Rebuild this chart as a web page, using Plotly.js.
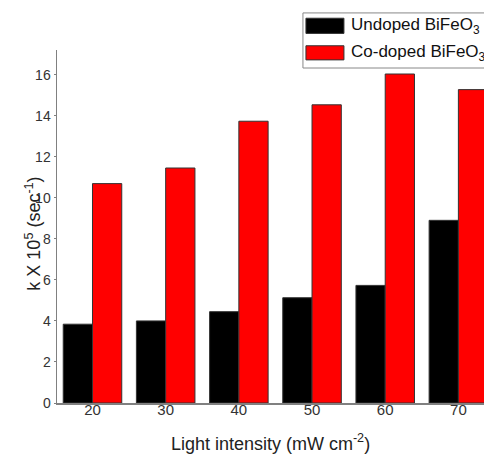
<!DOCTYPE html>
<html>
<head>
<meta charset="utf-8">
<script src="https://cdn.plot.ly/plotly-3.0.1.min.js"></script>
<style>html,body{margin:0;padding:0;background:#fff;}#chart{width:484px;height:454px;}</style>
</head>
<body>
<div id="chart"></div>
<script>
const intensities = [20, 30, 40, 50, 60, 70];
const undoped = [3.84, 4.0, 4.45, 5.13, 5.73, 8.9];
const codoped = [10.69, 11.45, 13.73, 14.53, 16.03, 15.27];
const seriesNames = ['Undoped BiFeO<sub>3</sub>', 'Co-doped BiFeO<sub>3</sub>'];
const seriesColors = ['#000000', '#ff0000'];
const yTicks = [0, 2, 4, 6, 8, 10, 12, 14, 16];

const traces = [
  {type: 'bar', x: intensities, y: undoped, name: seriesNames[0],
   marker: {color: seriesColors[0], line: {color: '#333', width: 1}}, showlegend: false},
  {type: 'bar', x: intensities, y: codoped, name: seriesNames[1],
   marker: {color: seriesColors[1], line: {color: '#333', width: 1}}, showlegend: false}
];

const font = {family: 'Liberation Sans, Arial, sans-serif', color: '#222'};
const shapes = [
  {type: 'rect', xref: 'paper', yref: 'paper', x0: 0.576, x1: 1.05, y0: 0.949, y1: 1.105,
   line: {color: '#888', width: 1}, fillcolor: '#fff', layer: 'above'},
  {type: 'rect', xref: 'paper', yref: 'paper', x0: 0.583, x1: 0.672, y0: 1.047, y1: 1.090,
   line: {color: '#333', width: 1}, fillcolor: seriesColors[0], layer: 'above'},
  {type: 'rect', xref: 'paper', yref: 'paper', x0: 0.583, x1: 0.672, y0: 0.972, y1: 1.012,
   line: {color: '#333', width: 1}, fillcolor: seriesColors[1], layer: 'above'}
];
const annotations = [
  {xref: 'paper', yref: 'paper', x: 0.684, y: 1.068, xanchor: 'left', yanchor: 'middle',
   text: seriesNames[0], showarrow: false, font: {family: font.family, size: 17, color: '#111'}},
  {xref: 'paper', yref: 'paper', x: 0.684, y: 0.991, xanchor: 'left', yanchor: 'middle',
   text: seriesNames[1], showarrow: false, font: {family: font.family, size: 17, color: '#111'}},
  {xref: 'paper', yref: 'paper', x: -0.056, y: 0.48, xanchor: 'center', yanchor: 'middle',
   textangle: -90, text: 'k X 10<sup>5</sup> (sec<sup>-1</sup>)', showarrow: false,
   font: {family: font.family, size: 18, color: '#222'}}
];

const layout = {
  width: 484, height: 454,
  margin: {l: 57, r: 0, t: 50, b: 51},
  paper_bgcolor: '#fff', plot_bgcolor: '#fff',
  font: font,
  bargap: 0.2, bargroupgap: 0,
  barmode: 'group',
  showlegend: false,
  xaxis: {
    range: [15.15, 73.5], tickvals: intensities, ticktext: intensities.map(String),
    showgrid: false, zeroline: false, showline: true, linecolor: '#808080', linewidth: 1.5,
    ticks: '', tickfont: {size: 15, color: '#333'}, ticklabelstandoff: -8,
    title: {text: 'Light intensity (mW cm<sup>-2</sup>)', font: {size: 18, color: '#222'}, standoff: 22}
  },
  yaxis: {
    range: [0, 17.2], tickvals: yTicks, ticktext: yTicks.map(String),
    showgrid: false, zeroline: false, showline: true, linecolor: '#808080', linewidth: 1.5,
    ticks: 'outside', ticklen: 2, tickcolor: '#808080', tickfont: {size: 14, color: '#333'}
  },
  shapes: shapes,
  annotations: annotations
};

Plotly.newPlot('chart', traces, layout, {displayModeBar: false, staticPlot: true});
</script>
</body>
</html>
